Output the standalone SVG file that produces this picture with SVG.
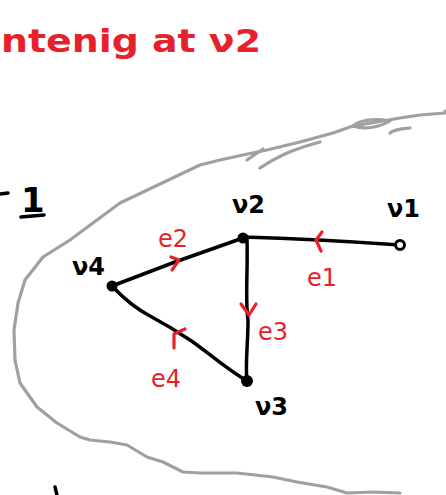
<svg xmlns="http://www.w3.org/2000/svg" width="446" height="495" viewBox="0 0 446 495">
<style>
.edge{fill:none;stroke:#000;stroke-width:3.5;stroke-linecap:round;stroke-linejoin:round}
.arr{fill:none;stroke:#e8202a;stroke-width:3.2;stroke-linecap:round;stroke-linejoin:round}
.gray{fill:none;stroke:#a0a0a0;stroke-width:3.2;stroke-linecap:round;stroke-linejoin:round}
.blk{font-family:"DejaVu Sans",sans-serif;font-size:24px;font-weight:bold;fill:#000}
.red{font-family:"DejaVu Sans",sans-serif;font-size:24px;fill:#e8202a}
</style>
<rect width="446" height="495" fill="#fff"/>
<g id="title">
<text class="red" x="1" y="52" style="font-size:32px;font-weight:bold" textLength="260" lengthAdjust="spacingAndGlyphs">ntenig  at ν2</text>
</g>
<g id="boundary">
<path class="gray" d="M445,113 L420,115 L400,118 L377,122 L353,126 L333,133 L300,142 L267,150 L243,155 L220,160 L200,165 L160,184 L120,203 L97,220 L70,240 L43,257 L25,280 L18,303 L14,330 L15,360 L20,383 L37,407 L57,423 L80,437 L90,440 L110,442 L127,445 L147,457 L163,462 L183,472 L200,473 L237,473 L273,477 L297,482 L327,487 L347,493 L373,492 L400,493"/>
<path class="gray" d="M247,160 L263,149"/>
<path class="gray" d="M260,168 C275,158 290,150 320,142"/>
<path class="gray" d="M353,126 C360,120 375,118 390,121 C380,127 365,130 353,126"/>
<path class="gray" d="M390,133 C395,129 402,129 410,128"/>
<circle cx="445" cy="111" r="1.5" fill="#a0a0a0"/>
</g>
<g id="label-minus1">
<path class="edge" d="M0,194 L8,193"/>
<text class="blk" x="21" y="212" style="font-size:34px">1</text>
<path class="edge" d="M21,217 L44,215"/>
</g>
<g id="connectors">
<path class="edge" d="M112,286 L175,262 L243,238"/>
<path class="edge" d="M243,237 C280,238 330,240 400,245"/>
<path class="edge" d="M247,239 C248,270 245,300 248,320 C248,345 245,365 247,381"/>
<path class="edge" d="M112,286 C125,300 135,308 150,316 C165,324 175,330 190,340 C205,350 225,368 247,381"/>
<path class="arr" d="M171,257 L179,260 L172,270"/>
<path class="arr" d="M322,232 L316,240 L321,251"/>
<path class="arr" d="M241,304 L249,315 L256,304"/>
<path class="arr" d="M185,329 L174,334 L174,348"/>
<text class="red" x="158" y="247">e2</text>
<text class="red" x="307" y="286">e1</text>
<text class="red" x="258" y="340">e3</text>
<text class="red" x="151" y="387">e4</text>
</g>
<g id="v2">
<circle cx="243" cy="238" r="5.5" fill="#000"/>
<text class="blk" x="232" y="213">ν2</text>
</g>
<g id="v1">
<circle cx="400" cy="245" r="4.5" fill="#fff" stroke="#000" stroke-width="3"/>
<text class="blk" x="387" y="217">ν1</text>
</g>
<g id="v4">
<circle cx="112" cy="286" r="5.5" fill="#000"/>
<text class="blk" x="72" y="275">ν4</text>
</g>
<g id="v3">
<circle cx="247" cy="381" r="6" fill="#000"/>
<text class="blk" x="255" y="415">ν3</text>
</g>
<g id="mark">
<path class="edge" d="M55,487 L57,495"/>
</g>
</svg>
